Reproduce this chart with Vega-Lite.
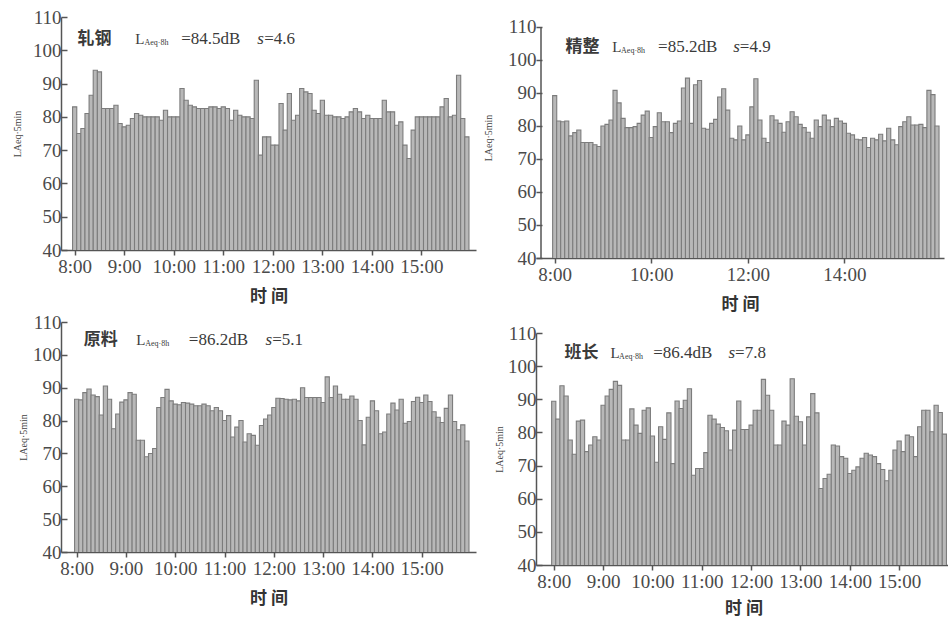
{
"$schema":"https://vega.github.io/schema/vega-lite/v6.json",
"background":"white",
"padding":{"left":12,"top":8,"right":0,"bottom":0},
"datasets":{
"p1":[{"i":0,"v":83},{"i":1,"v":75},{"i":2,"v":76.5},{"i":3,"v":81},{"i":4,"v":86.5},{"i":5,"v":94},{"i":6,"v":93.5},{"i":7,"v":82.5},{"i":8,"v":82.5},{"i":9,"v":82.5},{"i":10,"v":83.5},{"i":11,"v":78},{"i":12,"v":77},{"i":13,"v":77.5},{"i":14,"v":79.5},{"i":15,"v":81},{"i":16,"v":80.5},{"i":17,"v":80},{"i":18,"v":80},{"i":19,"v":80},{"i":20,"v":80},{"i":21,"v":79},{"i":22,"v":82},{"i":23,"v":80},{"i":24,"v":80},{"i":25,"v":80},{"i":26,"v":88.5},{"i":27,"v":85},{"i":28,"v":83.5},{"i":29,"v":83},{"i":30,"v":82.5},{"i":31,"v":82.5},{"i":32,"v":82.5},{"i":33,"v":83},{"i":34,"v":83},{"i":35,"v":82.5},{"i":36,"v":83},{"i":37,"v":82.5},{"i":38,"v":79},{"i":39,"v":82},{"i":40,"v":80.5},{"i":41,"v":80},{"i":42,"v":80},{"i":43,"v":79.5},{"i":44,"v":91},{"i":45,"v":68.5},{"i":46,"v":74},{"i":47,"v":74},{"i":48,"v":71.5},{"i":49,"v":71.5},{"i":50,"v":84},{"i":51,"v":76},{"i":52,"v":87},{"i":53,"v":79},{"i":54,"v":80.5},{"i":55,"v":88.5},{"i":56,"v":87.5},{"i":57,"v":87},{"i":58,"v":82},{"i":59,"v":81},{"i":60,"v":85},{"i":61,"v":80.5},{"i":62,"v":80.5},{"i":63,"v":80},{"i":64,"v":80},{"i":65,"v":79.5},{"i":66,"v":80},{"i":67,"v":81.5},{"i":68,"v":82.5},{"i":69,"v":81.5},{"i":70,"v":79.5},{"i":71,"v":80.5},{"i":72,"v":79.5},{"i":73,"v":79.5},{"i":74,"v":79.5},{"i":75,"v":85},{"i":76,"v":81.5},{"i":77,"v":81.5},{"i":78,"v":77.5},{"i":79,"v":78.5},{"i":80,"v":71.5},{"i":81,"v":67.5},{"i":82,"v":76},{"i":83,"v":80},{"i":84,"v":80},{"i":85,"v":80},{"i":86,"v":80},{"i":87,"v":80},{"i":88,"v":80},{"i":89,"v":83},{"i":90,"v":85.5},{"i":91,"v":80},{"i":92,"v":80.5},{"i":93,"v":92.5},{"i":94,"v":79.5},{"i":95,"v":74}],
"p2":[{"i":0,"v":89.2},{"i":1,"v":81.5},{"i":2,"v":81.3},{"i":3,"v":81.5},{"i":4,"v":77},{"i":5,"v":78},{"i":6,"v":78.8},{"i":7,"v":75},{"i":8,"v":75},{"i":9,"v":75},{"i":10,"v":74.3},{"i":11,"v":73.8},{"i":12,"v":80},{"i":13,"v":80.5},{"i":14,"v":81.8},{"i":15,"v":90.8},{"i":16,"v":87},{"i":17,"v":82.3},{"i":18,"v":79.5},{"i":19,"v":79.5},{"i":20,"v":79.8},{"i":21,"v":80.8},{"i":22,"v":83.3},{"i":23,"v":84.5},{"i":24,"v":76.5},{"i":25,"v":79.8},{"i":26,"v":84},{"i":27,"v":81.3},{"i":28,"v":81.3},{"i":29,"v":78},{"i":30,"v":80.8},{"i":31,"v":81.5},{"i":32,"v":91.5},{"i":33,"v":94.5},{"i":34,"v":80.8},{"i":35,"v":92.5},{"i":36,"v":93.8},{"i":37,"v":79.3},{"i":38,"v":79},{"i":39,"v":80.8},{"i":40,"v":82},{"i":41,"v":88.8},{"i":42,"v":91.3},{"i":43,"v":84.8},{"i":44,"v":76.3},{"i":45,"v":75.8},{"i":46,"v":80},{"i":47,"v":75.8},{"i":48,"v":77.3},{"i":49,"v":85.8},{"i":50,"v":94.3},{"i":51,"v":81.8},{"i":52,"v":76.3},{"i":53,"v":75},{"i":54,"v":83.1},{"i":55,"v":81.8},{"i":56,"v":80.8},{"i":57,"v":78.1},{"i":58,"v":81.3},{"i":59,"v":84.3},{"i":60,"v":82.8},{"i":61,"v":80.5},{"i":62,"v":79.5},{"i":63,"v":78.1},{"i":64,"v":76.3},{"i":65,"v":81.8},{"i":66,"v":79.8},{"i":67,"v":83.3},{"i":68,"v":81.8},{"i":69,"v":79.8},{"i":70,"v":82.3},{"i":71,"v":81.5},{"i":72,"v":80.8},{"i":73,"v":77.8},{"i":74,"v":77.3},{"i":75,"v":76},{"i":76,"v":75.8},{"i":77,"v":76.5},{"i":78,"v":73.5},{"i":79,"v":76.3},{"i":80,"v":75.8},{"i":81,"v":77.5},{"i":82,"v":75.5},{"i":83,"v":79.3},{"i":84,"v":75.8},{"i":85,"v":74.3},{"i":86,"v":79.8},{"i":87,"v":81.3},{"i":88,"v":82.8},{"i":89,"v":80.3},{"i":90,"v":80.3},{"i":91,"v":80.5},{"i":92,"v":79.5},{"i":93,"v":90.8},{"i":94,"v":89.5},{"i":95,"v":80}],
"p3":[{"i":0,"v":86.5},{"i":1,"v":86.3},{"i":2,"v":88.5},{"i":3,"v":89.6},{"i":4,"v":87.8},{"i":5,"v":87.3},{"i":6,"v":81.7},{"i":7,"v":90.5},{"i":8,"v":86.5},{"i":9,"v":77.5},{"i":10,"v":82},{"i":11,"v":85.6},{"i":12,"v":86.3},{"i":13,"v":88.5},{"i":14,"v":88},{"i":15,"v":74},{"i":16,"v":74},{"i":17,"v":69},{"i":18,"v":70},{"i":19,"v":71.5},{"i":20,"v":84},{"i":21,"v":87},{"i":22,"v":89.5},{"i":23,"v":86},{"i":24,"v":85},{"i":25,"v":84.8},{"i":26,"v":85.5},{"i":27,"v":85.3},{"i":28,"v":85},{"i":29,"v":84.5},{"i":30,"v":84.5},{"i":31,"v":85},{"i":32,"v":84.5},{"i":33,"v":83},{"i":34,"v":84},{"i":35,"v":83},{"i":36,"v":80},{"i":37,"v":81.5},{"i":38,"v":75},{"i":39,"v":78},{"i":40,"v":80},{"i":41,"v":73.5},{"i":42,"v":76},{"i":43,"v":75.5},{"i":44,"v":72.5},{"i":45,"v":78.5},{"i":46,"v":80.5},{"i":47,"v":81.7},{"i":48,"v":84},{"i":49,"v":86.8},{"i":50,"v":86.7},{"i":51,"v":86.5},{"i":52,"v":86.3},{"i":53,"v":86.5},{"i":54,"v":86},{"i":55,"v":90},{"i":56,"v":87},{"i":57,"v":87},{"i":58,"v":87},{"i":59,"v":87},{"i":60,"v":85.5},{"i":61,"v":93.3},{"i":62,"v":87},{"i":63,"v":90.5},{"i":64,"v":88},{"i":65,"v":86.5},{"i":66,"v":86.5},{"i":67,"v":87.5},{"i":68,"v":86.5},{"i":69,"v":80},{"i":70,"v":72.6},{"i":71,"v":81},{"i":72,"v":86},{"i":73,"v":83},{"i":74,"v":76},{"i":75,"v":76.5},{"i":76,"v":82},{"i":77,"v":85.3},{"i":78,"v":83.2},{"i":79,"v":86.5},{"i":80,"v":79.2},{"i":81,"v":79.7},{"i":82,"v":85.8},{"i":83,"v":87.1},{"i":84,"v":85.5},{"i":85,"v":87.8},{"i":86,"v":85.8},{"i":87,"v":82.7},{"i":88,"v":81},{"i":89,"v":79.4},{"i":90,"v":83.7},{"i":91,"v":87.8},{"i":92,"v":79.7},{"i":93,"v":77.2},{"i":94,"v":78.7},{"i":95,"v":73.8}],
"p4":[{"i":0,"v":89.4},{"i":1,"v":84},{"i":2,"v":94.1},{"i":3,"v":91},{"i":4,"v":77.7},{"i":5,"v":73.4},{"i":6,"v":83.4},{"i":7,"v":83.7},{"i":8,"v":74.2},{"i":9,"v":76.2},{"i":10,"v":78.7},{"i":11,"v":77.7},{"i":12,"v":88.2},{"i":13,"v":91},{"i":14,"v":93},{"i":15,"v":95.4},{"i":16,"v":94.2},{"i":17,"v":77.7},{"i":18,"v":77.7},{"i":19,"v":87.1},{"i":20,"v":82.2},{"i":21,"v":79.7},{"i":22,"v":86.7},{"i":23,"v":87.4},{"i":24,"v":78.9},{"i":25,"v":71},{"i":26,"v":81.7},{"i":27,"v":77.9},{"i":28,"v":85.9},{"i":29,"v":70.6},{"i":30,"v":89.5},{"i":31,"v":87.2},{"i":32,"v":89.7},{"i":33,"v":93.2},{"i":34,"v":67.1},{"i":35,"v":69.1},{"i":36,"v":69.1},{"i":37,"v":73.9},{"i":38,"v":85.2},{"i":39,"v":84},{"i":40,"v":82.5},{"i":41,"v":81.5},{"i":42,"v":80.5},{"i":43,"v":74.7},{"i":44,"v":80.7},{"i":45,"v":89.5},{"i":46,"v":80.9},{"i":47,"v":80.9},{"i":48,"v":82.2},{"i":49,"v":86.7},{"i":50,"v":86.7},{"i":51,"v":96},{"i":52,"v":91.2},{"i":53,"v":86.7},{"i":54,"v":76.2},{"i":55,"v":76.2},{"i":56,"v":83.4},{"i":57,"v":82.2},{"i":58,"v":96.2},{"i":59,"v":84.9},{"i":60,"v":83.2},{"i":61,"v":76.2},{"i":62,"v":84.7},{"i":63,"v":91.7},{"i":64,"v":85.9},{"i":65,"v":63.1},{"i":66,"v":66.1},{"i":67,"v":67.4},{"i":68,"v":76.2},{"i":69,"v":75.9},{"i":70,"v":72.7},{"i":71,"v":72.2},{"i":72,"v":67.6},{"i":73,"v":68.6},{"i":74,"v":69.6},{"i":75,"v":72.2},{"i":76,"v":73.7},{"i":77,"v":73.2},{"i":78,"v":72.7},{"i":79,"v":70.6},{"i":80,"v":68.8},{"i":81,"v":65.4},{"i":82,"v":68.6},{"i":83,"v":74.7},{"i":84,"v":77.4},{"i":85,"v":74.2},{"i":86,"v":79.2},{"i":87,"v":78.7},{"i":88,"v":72.7},{"i":89,"v":81.7},{"i":90,"v":86.7},{"i":91,"v":86.7},{"i":92,"v":80.2},{"i":93,"v":88.2},{"i":94,"v":86},{"i":95,"v":79.5}]
},
"hconcat":[
{"vconcat":[
 {"width":415,"height":233,
  "resolve":{"axis":{"x":"independent","y":"independent"}},
  "layer":[
   {"data":{"name":"p1"},"mark":{"type":"bar","width":4.2,"fill":"#b8b8b8","stroke":"#7c7c7c","strokeWidth":1.1,"clip":true},
    "encoding":{
     "x":{"field":"i","type":"quantitative","scale":{"domain":[-2.1,96],"nice":false,"zero":false},
          "axis":{"values":[0,12,24,36,48,60,72,84],"labelExpr":"(8 + datum.value/12) + ':00'","title":"时  间","labelOverlap":false}},
     "y":{"field":"v","type":"quantitative","scale":{"domain":[40,110],"nice":false,"zero":false},
          "axis":{"values":[40,50,60,70,80,90,100,110],"title":"LAeq·5min","titlePadding":10,"labelOverlap":false}}}},
   {"data":{"values":[{}]},"mark":{"type":"text","align":"left","baseline":"alphabetic","font":"Noto Sans CJK SC","fontWeight":"bold","fontSize":17,"color":"#3a3a3a"},
    "encoding":{"x":{"datum":0.7,"type":"quantitative","axis":null},"y":{"datum":102,"type":"quantitative","axis":null},"text":{"value":"轧钢"}}},
   {"data":{"values":[{}]},"mark":{"type":"text","align":"left","baseline":"alphabetic","fontSize":15,"color":"#3a3a3a"},
    "encoding":{"x":{"datum":14.7,"type":"quantitative","axis":null},"y":{"datum":102,"type":"quantitative","axis":null},"text":{"value":"L"}}},
   {"data":{"values":[{}]},"mark":{"type":"text","align":"left","baseline":"alphabetic","fontSize":8,"dy":1,"color":"#3a3a3a"},
    "encoding":{"x":{"datum":16.9,"type":"quantitative","axis":null},"y":{"datum":102,"type":"quantitative","axis":null},"text":{"value":"Aeq·8h"}}},
   {"data":{"values":[{}]},"mark":{"type":"text","align":"left","baseline":"alphabetic","fontSize":17,"color":"#3a3a3a"},
    "encoding":{"x":{"datum":25.8,"type":"quantitative","axis":null},"y":{"datum":102,"type":"quantitative","axis":null},"text":{"value":"=84.5dB"}}},
   {"data":{"values":[{}]},"mark":{"type":"text","align":"left","baseline":"alphabetic","fontSize":17,"fontStyle":"italic","color":"#3a3a3a"},
    "encoding":{"x":{"datum":44.2,"type":"quantitative","axis":null},"y":{"datum":102,"type":"quantitative","axis":null},"text":{"value":"s"}}},
   {"data":{"values":[{}]},"mark":{"type":"text","align":"left","baseline":"alphabetic","fontSize":17,"color":"#3a3a3a"},
    "encoding":{"x":{"datum":45.9,"type":"quantitative","axis":null},"y":{"datum":102,"type":"quantitative","axis":null},"text":{"value":"=4.6"}}}
  ]},
 {"width":415,"height":230,
  "resolve":{"axis":{"x":"independent","y":"independent"}},
  "layer":[
   {"data":{"name":"p3"},"mark":{"type":"bar","width":4.2,"fill":"#b8b8b8","stroke":"#7c7c7c","strokeWidth":1.1,"clip":true},
    "encoding":{
     "x":{"field":"i","type":"quantitative","scale":{"domain":[-2.6,96],"nice":false,"zero":false},
          "axis":{"values":[0,12,24,36,48,60,72,84],"labelExpr":"(8 + datum.value/12) + ':00'","title":"时  间","labelOverlap":false}},
     "y":{"field":"v","type":"quantitative","scale":{"domain":[40,110],"nice":false,"zero":false},
          "axis":{"values":[40,50,60,70,80,90,100,110],"title":"LAeq·5min","titlePadding":4,"labelOverlap":false}}}},
   {"data":{"values":[{}]},"mark":{"type":"text","align":"left","baseline":"alphabetic","font":"Noto Sans CJK SC","fontWeight":"bold","fontSize":17,"color":"#3a3a3a"},
    "encoding":{"x":{"datum":1.7,"type":"quantitative","axis":null},"y":{"datum":103,"type":"quantitative","axis":null},"text":{"value":"原料"}}},
   {"data":{"values":[{}]},"mark":{"type":"text","align":"left","baseline":"alphabetic","fontSize":15,"color":"#3a3a3a"},
    "encoding":{"x":{"datum":14.5,"type":"quantitative","axis":null},"y":{"datum":103,"type":"quantitative","axis":null},"text":{"value":"L"}}},
   {"data":{"values":[{}]},"mark":{"type":"text","align":"left","baseline":"alphabetic","fontSize":8,"dy":1,"color":"#3a3a3a"},
    "encoding":{"x":{"datum":16.7,"type":"quantitative","axis":null},"y":{"datum":103,"type":"quantitative","axis":null},"text":{"value":"Aeq·8h"}}},
   {"data":{"values":[{}]},"mark":{"type":"text","align":"left","baseline":"alphabetic","fontSize":17,"color":"#3a3a3a"},
    "encoding":{"x":{"datum":27.3,"type":"quantitative","axis":null},"y":{"datum":103,"type":"quantitative","axis":null},"text":{"value":"=86.2dB"}}},
   {"data":{"values":[{}]},"mark":{"type":"text","align":"left","baseline":"alphabetic","fontSize":17,"fontStyle":"italic","color":"#3a3a3a"},
    "encoding":{"x":{"datum":46,"type":"quantitative","axis":null},"y":{"datum":103,"type":"quantitative","axis":null},"text":{"value":"s"}}},
   {"data":{"values":[{}]},"mark":{"type":"text","align":"left","baseline":"alphabetic","fontSize":17,"color":"#3a3a3a"},
    "encoding":{"x":{"datum":47.6,"type":"quantitative","axis":null},"y":{"datum":103,"type":"quantitative","axis":null},"text":{"value":"=5.1"}}}
  ]}
 ],"spacing":9},
{"vconcat":[
 {"width":408,"height":241,
  "resolve":{"axis":{"x":"independent","y":"independent"}},
  "layer":[
   {"data":{"name":"p2"},"mark":{"type":"bar","width":4.1,"fill":"#b8b8b8","stroke":"#7c7c7c","strokeWidth":1.1,"clip":true},
    "encoding":{
     "x":{"field":"i","type":"quantitative","scale":{"domain":[-3.4,95.5],"nice":false,"zero":false},
          "axis":{"values":[0,24,48,72],"labelExpr":"(8 + datum.value/12) + ':00'","title":"时  间","labelOverlap":false}},
     "y":{"field":"v","type":"quantitative","scale":{"domain":[40,113.03],"nice":false,"zero":false},
          "axis":{"values":[40,50,60,70,80,90,100,110],"title":"LAeq·5min","titlePadding":14,"labelOverlap":false,"domain":false}}}},
   {"data":{"values":[{}]},"mark":{"type":"rule","color":"#555555","strokeWidth":1.5},
    "encoding":{"x":{"datum":-3.4,"type":"quantitative","axis":null},"y":{"datum":40,"type":"quantitative","axis":null},"y2":{"datum":110}}},
   {"data":{"values":[{}]},"mark":{"type":"text","align":"left","baseline":"alphabetic","font":"Noto Sans CJK SC","fontWeight":"bold","fontSize":17,"color":"#3a3a3a"},
    "encoding":{"x":{"datum":2.7,"type":"quantitative","axis":null},"y":{"datum":102.4,"type":"quantitative","axis":null},"text":{"value":"精整"}}},
   {"data":{"values":[{}]},"mark":{"type":"text","align":"left","baseline":"alphabetic","fontSize":15,"color":"#3a3a3a"},
    "encoding":{"x":{"datum":14.3,"type":"quantitative","axis":null},"y":{"datum":102.4,"type":"quantitative","axis":null},"text":{"value":"L"}}},
   {"data":{"values":[{}]},"mark":{"type":"text","align":"left","baseline":"alphabetic","fontSize":8,"dy":1,"color":"#3a3a3a"},
    "encoding":{"x":{"datum":16.5,"type":"quantitative","axis":null},"y":{"datum":102.4,"type":"quantitative","axis":null},"text":{"value":"Aeq·8h"}}},
   {"data":{"values":[{}]},"mark":{"type":"text","align":"left","baseline":"alphabetic","fontSize":17,"color":"#3a3a3a"},
    "encoding":{"x":{"datum":25.7,"type":"quantitative","axis":null},"y":{"datum":102.4,"type":"quantitative","axis":null},"text":{"value":"=85.2dB"}}},
   {"data":{"values":[{}]},"mark":{"type":"text","align":"left","baseline":"alphabetic","fontSize":17,"fontStyle":"italic","color":"#3a3a3a"},
    "encoding":{"x":{"datum":44.4,"type":"quantitative","axis":null},"y":{"datum":102.4,"type":"quantitative","axis":null},"text":{"value":"s"}}},
   {"data":{"values":[{}]},"mark":{"type":"text","align":"left","baseline":"alphabetic","fontSize":17,"color":"#3a3a3a"},
    "encoding":{"x":{"datum":46,"type":"quantitative","axis":null},"y":{"datum":102.4,"type":"quantitative","axis":null},"text":{"value":"=4.9"}}}
  ]},
 {"width":415,"height":232,
  "resolve":{"axis":{"x":"independent","y":"independent"}},
  "layer":[
   {"data":{"name":"p4"},"mark":{"type":"bar","width":4.2,"fill":"#b8b8b8","stroke":"#7c7c7c","strokeWidth":1.1,"clip":true},
    "encoding":{
     "x":{"field":"i","type":"quantitative","scale":{"domain":[-3.1,95.4],"nice":false,"zero":false},
          "axis":{"values":[0,12,24,36,48,60,72,84],"labelExpr":"(8 + datum.value/12) + ':00'","title":"时  间","titlePadding":9,"labelOverlap":false}},
     "y":{"field":"v","type":"quantitative","scale":{"domain":[40,110],"nice":false,"zero":false},
          "axis":{"values":[40,50,60,70,80,90,100,110],"title":"LAeq·5min","titlePadding":3,"labelOverlap":false}}}},
   {"data":{"values":[{}]},"mark":{"type":"text","align":"left","baseline":"alphabetic","font":"Noto Sans CJK SC","fontWeight":"bold","fontSize":17,"color":"#3a3a3a"},
    "encoding":{"x":{"datum":2.6,"type":"quantitative","axis":null},"y":{"datum":102.4,"type":"quantitative","axis":null},"text":{"value":"班长"}}},
   {"data":{"values":[{}]},"mark":{"type":"text","align":"left","baseline":"alphabetic","fontSize":15,"color":"#3a3a3a"},
    "encoding":{"x":{"datum":13.8,"type":"quantitative","axis":null},"y":{"datum":102.4,"type":"quantitative","axis":null},"text":{"value":"L"}}},
   {"data":{"values":[{}]},"mark":{"type":"text","align":"left","baseline":"alphabetic","fontSize":8,"dy":1,"color":"#3a3a3a"},
    "encoding":{"x":{"datum":15.9,"type":"quantitative","axis":null},"y":{"datum":102.4,"type":"quantitative","axis":null},"text":{"value":"Aeq·8h"}}},
   {"data":{"values":[{}]},"mark":{"type":"text","align":"left","baseline":"alphabetic","fontSize":17,"color":"#3a3a3a"},
    "encoding":{"x":{"datum":24.2,"type":"quantitative","axis":null},"y":{"datum":102.4,"type":"quantitative","axis":null},"text":{"value":"=86.4dB"}}},
   {"data":{"values":[{}]},"mark":{"type":"text","align":"left","baseline":"alphabetic","fontSize":17,"fontStyle":"italic","color":"#3a3a3a"},
    "encoding":{"x":{"datum":42.5,"type":"quantitative","axis":null},"y":{"datum":102.4,"type":"quantitative","axis":null},"text":{"value":"s"}}},
   {"data":{"values":[{}]},"mark":{"type":"text","align":"left","baseline":"alphabetic","fontSize":17,"color":"#3a3a3a"},
    "encoding":{"x":{"datum":44.1,"type":"quantitative","axis":null},"y":{"datum":102.4,"type":"quantitative","axis":null},"text":{"value":"=7.8"}}}
  ]}
 ],"spacing":12}
],
"spacing":7,
"config":{
 "view":{"stroke":null},
 "font":"Liberation Serif",
 "text":{"font":"Liberation Serif"},
 "axis":{"grid":false,"labelFont":"Liberation Serif","labelFontSize":19,"labelColor":"#4a4a4a","domainColor":"#555555","domainWidth":1.5,"tickColor":"#555555","tickWidth":1.5,"labelFlush":false,"labelOverlap":false},
 "axisX":{"tickSize":5,"labelPadding":2,"titleFont":"Noto Sans CJK SC","titleFontSize":17,"titleFontWeight":"bold","titleColor":"#333333","titlePadding":12},
 "axisY":{"tickSize":-6,"labelPadding":6,"titleFont":"Liberation Serif","titleFontSize":10,"titleFontWeight":"normal","titleColor":"#444444"}
}
}
